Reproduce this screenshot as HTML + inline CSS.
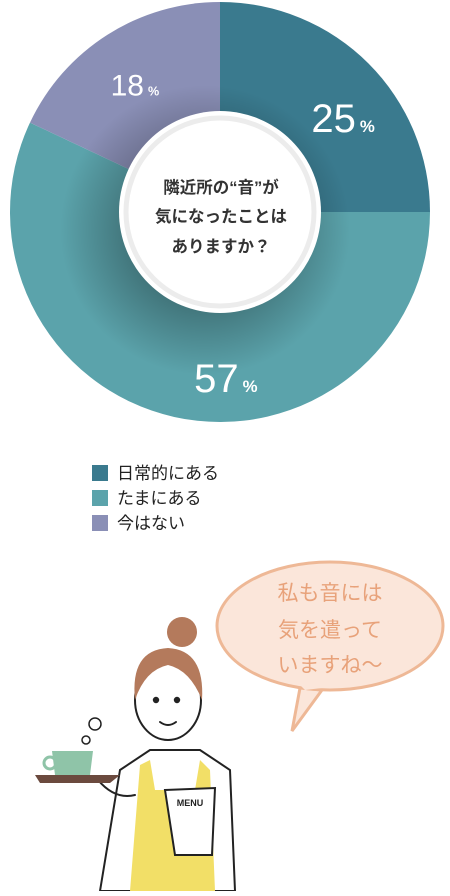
<!DOCTYPE html>
<html><head><meta charset="utf-8"><style>
body{margin:0;width:450px;height:891px;background:#fff;overflow:hidden;font-family:"Liberation Sans","Noto Sans CJK JP",sans-serif}
</style></head><body>
<svg id="c" width="450" height="891" viewBox="0 0 450 891" xmlns="http://www.w3.org/2000/svg">
<defs>
<radialGradient id="sh" cx="0.5" cy="0.5" r="0.5">
<stop offset="0.5" stop-color="#000" stop-opacity="0.3"/><stop offset="1" stop-color="#000" stop-opacity="0"/></radialGradient>
<clipPath id="dc"><circle cx="220" cy="212" r="210"/></clipPath>
</defs>
<g id="slices"></g>
<circle cx="205" cy="230" r="145" fill="url(#sh)" clip-path="url(#dc)"/>
<circle cx="220" cy="212" r="101" fill="#fff"/>
<circle cx="220" cy="212" r="94" fill="none" stroke="#ececec" stroke-width="5"/>
<g font-size="16.5" font-weight="bold" fill="#333" text-anchor="middle">
<text x="221" y="193">隣近所の“音”が</text><text x="221" y="222">気になったことは</text><text x="221" y="252">ありますか？</text></g>
<g id="labels"></g>
<g id="legend"></g>
<g>
<path d="M300 688 L292 731 L322 690 Z" fill="#fbe6da" stroke="#eeb896" stroke-width="3"/>
<ellipse cx="330" cy="626" rx="113" ry="64" fill="#fbe6da" stroke="#eeb896" stroke-width="3"/>
<path d="M300 685 L305 690 L322 688" fill="#fbe6da"/>
<g fill="#e8a27a" font-size="21" text-anchor="middle"><text x="330" y="600">私も音には</text><text x="330" y="637">気を遣って</text><text x="330" y="672">いますね～</text></g>
</g>
<g stroke="#222" stroke-width="2" stroke-linecap="round">
<path d="M100 891 L120 770 L150 750 L200 750 L230 770 L235 891Z" fill="#fff"/>
<path d="M130 891 L140 765 L150 760 L155 790 L195 790 L200 760 L210 770 L215 891Z" fill="#f2df67" stroke="none"/>
<ellipse cx="168" cy="700" rx="33" ry="40" fill="#fff"/>
<path d="M135 700 Q130 650 168 648 Q205 650 202 700 Q190 670 168 665 Q145 670 135 700Z" fill="#b47a5c" stroke="none"/>
<circle cx="182" cy="632" r="15" fill="#b47a5c" stroke="none"/>
<circle cx="156" cy="700" r="2.2" fill="#222"/><circle cx="177" cy="700" r="2.2" fill="#222"/>
<path d="M160 722 Q168 728 176 722" fill="none"/>
<path d="M98 780 Q115 800 135 795" fill="none"/>
<path d="M35 775 L120 775 L110 783 L40 783Z" fill="#6b4a3e" stroke="none"/>
<path d="M52 751 L93 751 L90 775 L55 775Z" fill="#8fc4a8" stroke="none"/>
<circle cx="50" cy="763" r="6" fill="none" stroke="#8fc4a8" stroke-width="3"/>
<circle cx="95" cy="724" r="6" fill="none" stroke-width="1.5"/><circle cx="86" cy="740" r="4" fill="none" stroke-width="1.5"/>
<path d="M165 790 L215 788 L212 855 L175 855Z" fill="#fff"/>
<text x="190" y="806" font-size="9" font-weight="bold" fill="#222" stroke="none" text-anchor="middle">MENU</text>
</g>
</svg>
<script>
var cats=["日常的にある","たまにある","今はない"];
var vals=[25,57,18];
var labs=["25","57","18"];
var cols=["#3a7a8e","#5ba3ab","#8a8fb6"];
(function(){
var ns="http://www.w3.org/2000/svg",cx=220,cy=212,R=210;
function pt(a,r){return [cx+r*Math.sin(a),cy-r*Math.cos(a)];}
var tot=0;for(var k=0;k<vals.length;k++)tot+=vals[k];
var acc=0;
var sg=document.getElementById('slices'),lg=document.getElementById('labels'),leg=document.getElementById('legend');
var lpos=[{r:155,fs:40,da:7.6},{r:166,fs:40,da:-14.6},{r:153,fs:30,da:-1.4}];
for(var i=0;i<vals.length;i++){
 var a0=acc/tot*2*Math.PI;acc+=vals[i];var a1=acc/tot*2*Math.PI;
 var p0=pt(a0,R),p1=pt(a1,R);
 var p=document.createElementNS(ns,'path');
 p.setAttribute('d','M'+cx+' '+cy+' L'+p0[0]+' '+p0[1]+' A'+R+' '+R+' 0 '+((a1-a0)>Math.PI?1:0)+' 1 '+p1[0]+' '+p1[1]+'Z');
 p.setAttribute('fill',cols[i]);
 
 
 sg.appendChild(p);
 var am=(a0+a1)/2+lpos[i].da*Math.PI/180,q=pt(am,lpos[i].r);
 var t=document.createElementNS(ns,'text');
 t.setAttribute('x',q[0]);t.setAttribute('y',q[1]+lpos[i].fs*0.35);
 t.setAttribute('text-anchor','middle');t.setAttribute('fill','#fff');t.setAttribute('font-size',lpos[i].fs);
 t.appendChild(document.createTextNode(labs[i]));
 var ts=document.createElementNS(ns,'tspan');
 ts.setAttribute('font-size',lpos[i].fs*0.42);ts.setAttribute('font-weight','bold');ts.setAttribute('dx','4');
 ts.appendChild(document.createTextNode('%'));
 t.appendChild(ts);
 
 
 lg.appendChild(t);
 var y=465+i*25;
 var r=document.createElementNS(ns,'rect');
 r.setAttribute('x',92);r.setAttribute('y',y);r.setAttribute('width',16);r.setAttribute('height',16);r.setAttribute('fill',cols[i]);
 
 
 leg.appendChild(r);
 var lt=document.createElementNS(ns,'text');
 lt.setAttribute('x',117);lt.setAttribute('y',y+14);lt.setAttribute('font-size',17);lt.setAttribute('fill','#222');
 lt.textContent=cats[i];
 
 
 leg.appendChild(lt);
}
})();
</script>
</body></html>
